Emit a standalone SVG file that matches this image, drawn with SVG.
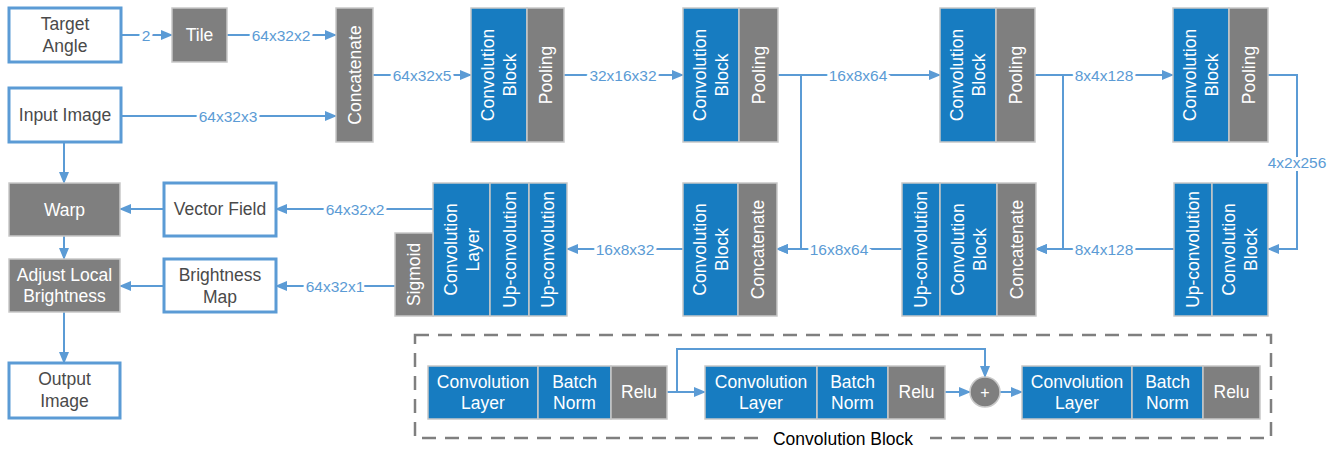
<svg xmlns="http://www.w3.org/2000/svg" width="1337" height="449" viewBox="0 0 1337 449">
<defs>
<marker id="ah" markerUnits="userSpaceOnUse" markerWidth="12" markerHeight="12" viewBox="0 0 12 12" refX="11" refY="6" orient="auto">
<path d="M0,1 L12,6 L0,11 Z" fill="#5B9BD5"/>
</marker>
<style>
.wb{fill:#fff;stroke:#5B9BD5;stroke-width:3}
.bl{fill:#177CC1;stroke:#C8C8C8;stroke-width:1.5}
.gr{fill:#7F7F7F;stroke:#C8C8C8;stroke-width:1.5}
text{font-family:"Liberation Sans",Arial,sans-serif}
.t{font-size:17.5px;text-anchor:middle;dominant-baseline:central}
.dk{fill:#4A4A4A}
.wt{fill:#fff}
.lb{font-size:15.5px;fill:#5B9BD5;text-anchor:middle;dominant-baseline:central;stroke:#fff;stroke-width:6;paint-order:stroke}
.c{fill:none;stroke:#5B9BD5;stroke-width:2}
.ca{fill:none;stroke:#5B9BD5;stroke-width:2;marker-end:url(#ah)}
</style>
</defs>

<g id="connectors">
<path class="ca" d="M121,35 H172"/>
<path class="ca" d="M227,35 H336"/>
<path class="ca" d="M121,116 H336"/>
<path class="ca" d="M373,75 H471"/>
<path class="ca" d="M564,75 H683"/>
<path class="ca" d="M778,75 H940"/>
<path class="ca" d="M801,75 V249 H777"/>
<path class="ca" d="M1035,75 H1173"/>
<path class="ca" d="M1063,75 V249 H1036"/>
<path class="ca" d="M1268,75 H1297 V249 H1268"/>
<path class="ca" d="M1174,249 H1036"/>
<path class="ca" d="M902,249 H777"/>
<path class="ca" d="M683,249 H567"/>
<path class="ca" d="M433,209 H276"/>
<path class="ca" d="M395,286 H276"/>
<path class="ca" d="M164,209 H120"/>
<path class="ca" d="M164,286 H120"/>
<path class="ca" d="M64,142 V183"/>
<path class="ca" d="M64,236 V259"/>
<path class="ca" d="M64,312 V363"/>
<path class="ca" d="M667,392 H705"/>
<path class="ca" d="M677,392 V349 H985 V377"/>
<path class="ca" d="M945,392 H970"/>
<path class="ca" d="M1000,392 H1022"/>
<text class="lb" x="146" y="35">2</text>
<text class="lb" x="281" y="35">64x32x2</text>
<text class="lb" x="228" y="116">64x32x3</text>
<text class="lb" x="422" y="75">64x32x5</text>
<text class="lb" x="623" y="75">32x16x32</text>
<text class="lb" x="858" y="75">16x8x64</text>
<text class="lb" x="1104" y="75">8x4x128</text>
<text class="lb" x="1297" y="162">4x2x256</text>
<text class="lb" x="1104" y="249">8x4x128</text>
<text class="lb" x="839" y="249">16x8x64</text>
<text class="lb" x="625" y="249">16x8x32</text>
<text class="lb" x="355" y="209">64x32x2</text>
<text class="lb" x="335" y="286">64x32x1</text>
</g>

<g id="target-angle"><rect class="wb" x="9" y="8" width="112" height="54"/><text class="t dk" x="65" y="24">Target</text><text class="t dk" x="65" y="46">Angle</text></g>
<g id="tile"><rect class="gr" x="172" y="8" width="55" height="54"/><text class="t wt" x="199.5" y="35">Tile</text></g>
<g id="input-image"><rect class="wb" x="9" y="88" width="112" height="54"/><text class="t dk" x="65" y="115">Input Image</text></g>
<g id="concat-in"><rect class="gr" x="336" y="8" width="37" height="134"/><text class="t wt" transform="translate(354.5,75) rotate(-90)">Concatenate</text></g>

<g id="enc1"><rect class="bl" x="471" y="8" width="56" height="134"/><rect class="gr" x="527" y="8" width="37" height="134"/>
<text class="t wt" transform="translate(499,75) rotate(-90)"><tspan x="0" y="-11">Convolution</tspan><tspan x="0" y="11">Block</tspan></text>
<text class="t wt" transform="translate(545.5,75) rotate(-90)">Pooling</text></g>
<g id="enc2"><rect class="bl" x="683" y="8" width="56" height="134"/><rect class="gr" x="739" y="8" width="39" height="134"/>
<text class="t wt" transform="translate(711,75) rotate(-90)"><tspan x="0" y="-11">Convolution</tspan><tspan x="0" y="11">Block</tspan></text>
<text class="t wt" transform="translate(758.5,75) rotate(-90)">Pooling</text></g>
<g id="enc3"><rect class="bl" x="940" y="8" width="56" height="134"/><rect class="gr" x="996" y="8" width="39" height="134"/>
<text class="t wt" transform="translate(968,75) rotate(-90)"><tspan x="0" y="-11">Convolution</tspan><tspan x="0" y="11">Block</tspan></text>
<text class="t wt" transform="translate(1015.5,75) rotate(-90)">Pooling</text></g>
<g id="enc4"><rect class="bl" x="1173" y="8" width="56" height="134"/><rect class="gr" x="1229" y="8" width="39" height="134"/>
<text class="t wt" transform="translate(1201,75) rotate(-90)"><tspan x="0" y="-11">Convolution</tspan><tspan x="0" y="11">Block</tspan></text>
<text class="t wt" transform="translate(1248.5,75) rotate(-90)">Pooling</text></g>

<g id="dec4"><rect class="bl" x="1174" y="183" width="38" height="133"/><rect class="bl" x="1212" y="183" width="56" height="133"/>
<text class="t wt" transform="translate(1193,249.5) rotate(-90)">Up-convolution</text>
<text class="t wt" transform="translate(1240,249.5) rotate(-90)"><tspan x="0" y="-11">Convolution</tspan><tspan x="0" y="11">Block</tspan></text></g>
<g id="dec3"><rect class="bl" x="902" y="183" width="38" height="133"/><rect class="bl" x="940" y="183" width="57" height="133"/><rect class="gr" x="997" y="183" width="39" height="133"/>
<text class="t wt" transform="translate(921,249.5) rotate(-90)">Up-convolution</text>
<text class="t wt" transform="translate(968.5,249.5) rotate(-90)"><tspan x="0" y="-11">Convolution</tspan><tspan x="0" y="11">Block</tspan></text>
<text class="t wt" transform="translate(1016.5,249.5) rotate(-90)">Concatenate</text></g>
<g id="dec2"><rect class="bl" x="683" y="183" width="55" height="133"/><rect class="gr" x="738" y="183" width="39" height="133"/>
<text class="t wt" transform="translate(710.5,249.5) rotate(-90)"><tspan x="0" y="-11">Convolution</tspan><tspan x="0" y="11">Block</tspan></text>
<text class="t wt" transform="translate(757.5,249.5) rotate(-90)">Concatenate</text></g>
<g id="dec1"><rect class="bl" x="433" y="183" width="57" height="133"/><rect class="bl" x="490" y="183" width="39" height="133"/><rect class="bl" x="529" y="183" width="38" height="133"/>
<text class="t wt" transform="translate(461.5,249.5) rotate(-90)"><tspan x="0" y="-11">Convolution</tspan><tspan x="0" y="11">Layer</tspan></text>
<text class="t wt" transform="translate(509.5,249.5) rotate(-90)">Up-convolution</text>
<text class="t wt" transform="translate(548,249.5) rotate(-90)">Up-convolution</text></g>
<g id="sigmoid"><rect class="gr" x="395" y="233" width="38" height="83"/><text class="t wt" transform="translate(414,274.5) rotate(-90)">Sigmoid</text></g>

<g id="vector-field"><rect class="wb" x="164" y="183" width="112" height="53"/><text class="t dk" x="220" y="209">Vector Field</text></g>
<g id="brightness-map"><rect class="wb" x="164" y="259" width="112" height="53"/><text class="t dk" x="220" y="275">Brightness</text><text class="t dk" x="220" y="297">Map</text></g>
<g id="warp"><rect class="gr" x="9" y="183" width="111" height="53"/><text class="t wt" x="64.5" y="209.5">Warp</text></g>
<g id="adjust"><rect class="gr" x="9" y="259" width="111" height="53"/><text class="t wt" x="64.5" y="275">Adjust Local</text><text class="t wt" x="64.5" y="296">Brightness</text></g>
<g id="output-image"><rect class="wb" x="9" y="363" width="111" height="55"/><text class="t dk" x="64.5" y="379">Output</text><text class="t dk" x="64.5" y="401">Image</text></g>

<g id="legend">
<rect x="415" y="335" width="856" height="103" fill="none" stroke="#7F7F7F" stroke-width="2.5" stroke-dasharray="14 9"/>
<rect x="758" y="430" width="172" height="18" fill="#fff"/>
<text x="843" y="439" font-size="17.5" fill="#000" text-anchor="middle" dominant-baseline="central">Convolution Block</text>
</g>
<g id="lg-conv1"><rect class="bl" x="428" y="366" width="110" height="53"/><text class="t wt" x="483" y="381.5">Convolution</text><text class="t wt" x="483" y="403">Layer</text></g>
<g id="lg-bn1"><rect class="bl" x="538" y="366" width="73" height="53"/><text class="t wt" x="574.5" y="381.5">Batch</text><text class="t wt" x="574.5" y="403">Norm</text></g>
<g id="lg-relu1"><rect class="gr" x="611" y="366" width="56" height="53"/><text class="t wt" x="639" y="392">Relu</text></g>
<g id="lg-conv2"><rect class="bl" x="705" y="366" width="112" height="53"/><text class="t wt" x="761" y="381.5">Convolution</text><text class="t wt" x="761" y="403">Layer</text></g>
<g id="lg-bn2"><rect class="bl" x="817" y="366" width="71" height="53"/><text class="t wt" x="852.5" y="381.5">Batch</text><text class="t wt" x="852.5" y="403">Norm</text></g>
<g id="lg-relu2"><rect class="gr" x="888" y="366" width="57" height="53"/><text class="t wt" x="916.5" y="392">Relu</text></g>
<g id="lg-add"><circle cx="985" cy="392" r="15" fill="#7F7F7F" stroke="#C8C8C8" stroke-width="1.5"/><text class="wt" x="985" y="392" font-size="16" text-anchor="middle" dominant-baseline="central">+</text></g>
<g id="lg-conv3"><rect class="bl" x="1022" y="366" width="110" height="53"/><text class="t wt" x="1077" y="381.5">Convolution</text><text class="t wt" x="1077" y="403">Layer</text></g>
<g id="lg-bn3"><rect class="bl" x="1132" y="366" width="71" height="53"/><text class="t wt" x="1167.5" y="381.5">Batch</text><text class="t wt" x="1167.5" y="403">Norm</text></g>
<g id="lg-relu3"><rect class="gr" x="1203" y="366" width="57" height="53"/><text class="t wt" x="1231.5" y="392">Relu</text></g>
</svg>
